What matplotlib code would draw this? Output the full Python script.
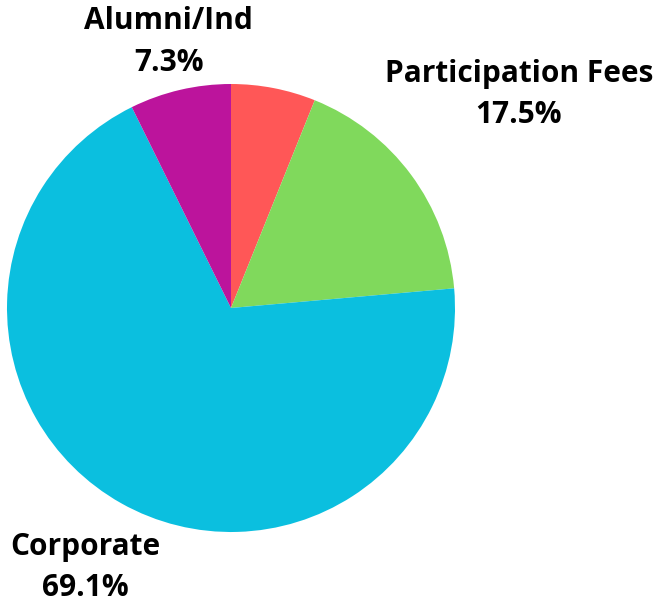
import numpy as np
import matplotlib.pyplot as plt

# slice data, clockwise from 12 o'clock
names = ['', 'Participation Fees', 'Corporate', 'Alumni/Ind']
shares = [6.1, 17.5, 69.1, 7.3]
colors = ['#FF5757', '#80D95C', '#0BBFDF', '#BC149C']
label_dist = [0, 1.6, 1.33, 1.22]

plt.rcParams['font.family'] = ['Open Sans', 'DejaVu Sans']

fig = plt.figure(figsize=(6.57, 6.03), dpi=100)
ax = fig.add_axes([0, 0, 1, 1])

cx, cy, r = 231, 295, 224
wedges, _ = ax.pie(shares, colors=colors, startangle=90, counterclock=False,
                   center=(cx, cy), radius=r, frame=True)
ax.set_xlim(0, 657)
ax.set_ylim(0, 603)
ax.set_aspect('equal')
ax.axis('off')

for w, name, val, d in zip(wedges, names, shares, label_dist):
    if not name:
        continue
    mid = np.deg2rad((w.theta1 + w.theta2) / 2)
    x = cx + d * r * np.cos(mid)
    y = cy + d * r * np.sin(mid)
    ax.text(x, y, f'{name}\n{val}%', ha='center', va='center',
            fontsize=21.5, fontweight='bold', linespacing=1.5)

fig.savefig('out.png', dpi=100)
